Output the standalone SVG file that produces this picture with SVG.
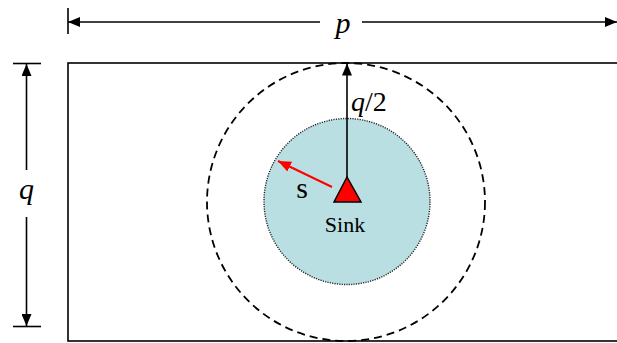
<svg xmlns="http://www.w3.org/2000/svg" width="617" height="343" viewBox="0 0 617 343">
<style>
.ln{stroke:#000;stroke-width:1.6;fill:none}
.it{font-style:italic}
</style>
<defs>
<marker id="ah" viewBox="0 0 12 10" refX="12" refY="5" markerWidth="12" markerHeight="10" markerUnits="userSpaceOnUse" orient="auto"><path d="M0,0L12,5L0,10z" fill="#000"/></marker>
<marker id="ahr" viewBox="0 0 12 10" refX="12" refY="5" markerWidth="13" markerHeight="11" markerUnits="userSpaceOnUse" orient="auto"><path d="M0,0L12,5L0,10z" fill="#f00"/></marker>
</defs>
<rect x="0" y="0" width="617" height="343" fill="#fff"/>
<g id="area">
<rect x="68" y="63" width="570" height="278" class="ln"/>
</g>
<g id="outer-circle">
<circle cx="346" cy="202" r="139" fill="none" stroke="#000" stroke-width="1.8" stroke-dasharray="8,5"/>
</g>
<g id="inner-circle">
<circle cx="347" cy="201.5" r="83" fill="#b9dfe3" stroke="#222" stroke-width="1.4" stroke-dasharray="1.2,1.2"/>
</g>
<g id="connectors">
<line x1="68" y1="8" x2="68" y2="34" class="ln"/>
<line x1="320" y1="22" x2="68" y2="22" class="ln" marker-end="url(#ah)"/>
<line x1="362" y1="22" x2="617" y2="22" class="ln" marker-end="url(#ah)"/>
<line x1="13" y1="63.5" x2="41" y2="63.5" class="ln"/>
<line x1="13" y1="326.5" x2="41" y2="326.5" class="ln"/>
<line x1="26.5" y1="170" x2="26.5" y2="64" class="ln" marker-end="url(#ah)"/>
<line x1="26.5" y1="217" x2="26.5" y2="326" class="ln" marker-end="url(#ah)"/>
<line x1="347" y1="177" x2="347" y2="63.5" class="ln" marker-end="url(#ah)"/>
<line x1="332" y1="187" x2="278" y2="161" stroke="#f00" stroke-width="2" marker-end="url(#ahr)"/>
</g>
<g id="sink" font-family="Liberation Serif, Times New Roman, serif">
<polygon points="347,177 334,202 361,202" fill="#f00" stroke="#000" stroke-width="1.5"/>
<text x="345" y="232" font-size="22" text-anchor="middle">Sink</text>
</g>
<g id="labels" font-family="Liberation Serif, Times New Roman, serif">
<text x="343" y="33" class="it" font-size="30" text-anchor="middle">p</text>
<text x="26.5" y="199" class="it" font-size="30" text-anchor="middle">q</text>
<text x="351" y="111" font-size="28"><tspan class="it">q</tspan>/2</text>
<text x="302" y="198" font-size="30" text-anchor="middle">s</text>
</g>
</svg>
